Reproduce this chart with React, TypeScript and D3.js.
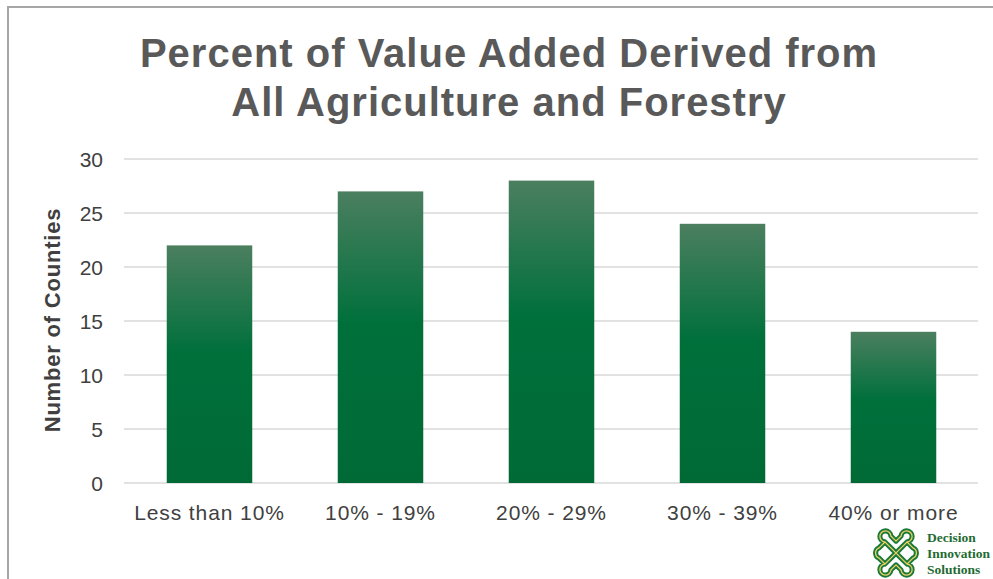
import React from "react";
import * as d3 from "d3";

const categories = ["Less than 10%", "10% - 19%", "20% - 29%", "30% - 39%", "40% or more"];
const counts = [22, 27, 28, 24, 14];
const yTicks = [0, 5, 10, 15, 20, 25, 30];
const titleLines = ["Percent of Value Added Derived from", "All Agriculture and Forestry"];
const yAxisTitle = "Number of Counties";
const logoLines = ["Decision", "Innovation", "Solutions"];

const W = 993;
const H = 579;

const knot =
  "M-6,-6 L-13,-13 A6.5,6.5 0 1 1 -6,-20 L0,-14 L6,-20 A6.5,6.5 0 1 1 13,-13 L6,-6 " +
  "M6,-6 L13,-13 M6,6 L13,13 A6.5,6.5 0 1 1 6,20 L0,14 L-6,20 A6.5,6.5 0 1 1 -13,13 L-6,6 " +
  "M-13,-13 L-20,-6 A6.5,6.5 0 0 0 -20,6 L-13,13 M13,-13 L20,-6 A6.5,6.5 0 0 1 20,6 L13,13 " +
  "M-6,-6 L6,6 M6,-6 L-6,6";

export default function App() {
  const x = d3.scaleBand<string>().domain(categories).range([124, 979]).paddingInner(0.5).paddingOuter(0.25);
  const y = d3.scaleLinear().domain([0, 30]).range([483, 159]);
  const font = "'Liberation Sans', Arial, sans-serif";

  return (
    <svg width={W} height={H} style={{ position: "absolute", left: 0, top: 0, background: "#fff" }}>
      <defs>
        <linearGradient id="barGrad" x1="0" y1="0" x2="0" y2="1">
          <stop offset="0%" stopColor="#4b7f5f" />
          <stop offset="45%" stopColor="#00703b" />
          <stop offset="100%" stopColor="#006a36" />
        </linearGradient>
      </defs>
      <rect x={8} y={7} width={W} height={H} fill="none" stroke="#a6a6a6" strokeWidth={2} />

      {titleLines.map((t, i) => (
        <text key={i} x={509} y={67 + i * 49} textAnchor="middle" fontFamily={font} fontWeight="bold"
          fontSize={40} letterSpacing={1} fill="#595959">{t}</text>
      ))}

      {yTicks.map((t) => (
        <g key={t}>
          <line x1={124} x2={978} y1={y(t)} y2={y(t)} stroke="#d9d9d9" strokeWidth={1.5} />
          <text x={103} y={y(t) + 7.5} textAnchor="end" fontFamily={font} fontSize={21} fill="#404040">{t}</text>
        </g>
      ))}

      <text transform={`translate(60,320) rotate(-90)`} textAnchor="middle" fontFamily={font} fontWeight="bold"
        fontSize={22} letterSpacing={0.8} fill="#404040">{yAxisTitle}</text>

      {categories.map((c, i) => (
        <g key={c}>
          <rect x={x(c)} y={y(counts[i])} width={x.bandwidth()} height={y(0) - y(counts[i])} fill="url(#barGrad)" />
          <text x={(x(c) as number) + x.bandwidth() / 2} y={520} textAnchor="middle" fontFamily={font}
            fontSize={21} letterSpacing={0.9} fill="#404040">{c}</text>
        </g>
      ))}

      <g transform="translate(896,553) scale(0.85)" fill="none" strokeLinecap="round" strokeLinejoin="round">
        <path d={knot} stroke="#1a7a3c" strokeWidth={6} />
        <path d={knot} stroke="#f0d060" strokeWidth={1.5} />
      </g>
      {logoLines.map((t, i) => (
        <text key={t} x={927} y={542 + i * 16} fontFamily="'Liberation Serif', 'DejaVu Serif', serif" fontWeight="bold"
          fontSize={13.5} fill="#1f6b33">{t}</text>
      ))}
    </svg>
  );
}
